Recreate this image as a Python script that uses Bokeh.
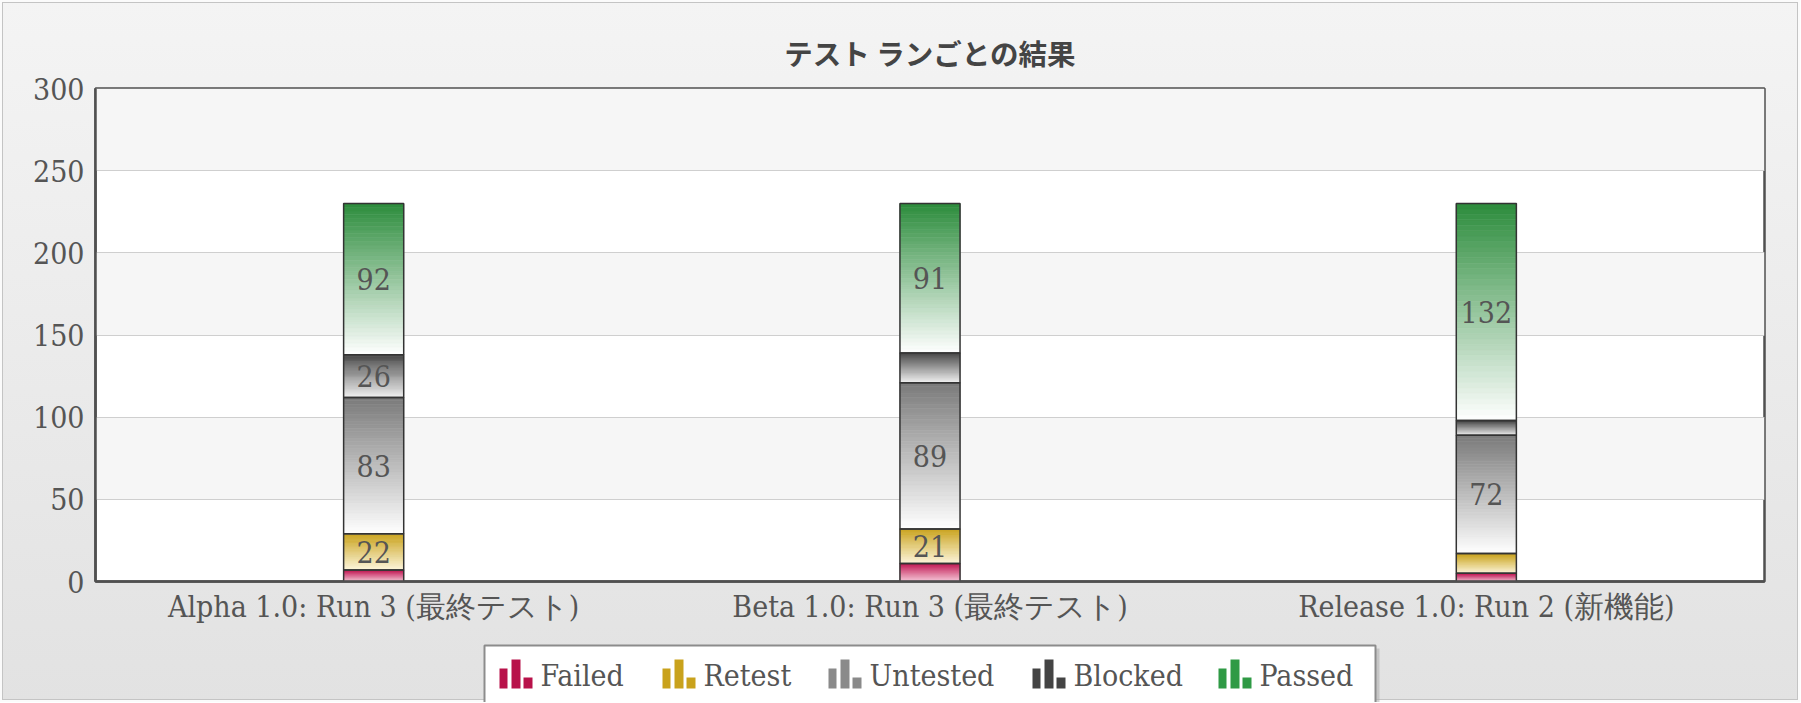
from bokeh.plotting import figure
from bokeh.models import FactorRange, Range1d, FixedTicker
from bokeh.layouts import column
from bokeh.embed import file_html
from bokeh.resources import INLINE
from bokeh.core.properties import value

# ---------------- data ----------------
runs = ["Alpha 1.0: Run 3 (最終テスト)", "Beta 1.0: Run 3 (最終テスト)", "Release 1.0: Run 2 (新機能)"]
statuses = ["Failed", "Retest", "Untested", "Blocked", "Passed"]
failed = [7, 11, 5]
retest = [22, 21, 12]
untested = [83, 89, 72]
blocked = [26, 18, 9]
passed = [92, 91, 132]
y_ticks = [0, 50, 100, 150, 200, 250, 300]
title_text = "テスト ランごとの結果"

series = [failed, retest, untested, blocked, passed]

# ---------------- style ----------------
top_colors = ["#c21a55", "#c9a21c", "#7a7a7a", "#474747", "#2c8c3c"]
bottom_colors = ["#f7cddb", "#fdf6dc", "#ffffff", "#f2f2f2", "#ffffff"]
icon_colors = ["#b8124a", "#c9a21c", "#8a8a8a", "#444444", "#2f9a45"]
SERIF = "DejaVu Serif Condensed"
FS = "30px"
TXT = "#555555"
BAR_W = 0.108
N_SLICES = 40
W = 1800
ML, MR = 95, 36


def hex2rgb(h):
    h = h.lstrip("#")
    return tuple(int(h[i:i + 2], 16) for i in (0, 2, 4))


def mix(c1, c2, t):
    a, b = hex2rgb(c1), hex2rgb(c2)
    return "#%02x%02x%02x" % tuple(round(a[i] + (b[i] - a[i]) * t) for i in range(3))


# ---------------- main figure ----------------
p = figure(width=W, height=640,
           x_range=FactorRange(*runs, range_padding=0),
           y_range=Range1d(0, 300),
           toolbar_location=None, output_backend="svg",
           min_border_left=ML, min_border_right=MR,
           min_border_top=88, min_border_bottom=59)

p.background_fill_color = "white"
p.border_fill_color = None
p.outline_line_color = "#505050"
p.outline_line_width = 2.5

p.title.text = title_text
p.title.align = "center"
p.title.text_font = "Noto Sans CJK JP"
p.title.text_font_size = "28.5px"
p.title.text_font_style = "bold"
p.title.text_color = "#444444"
p.title.standoff = 31

ticker = FixedTicker(ticks=y_ticks)
p.yaxis.ticker = ticker
p.ygrid.ticker = ticker
p.xgrid.visible = False
p.ygrid.grid_line_color = "#cfcfcf"
p.ygrid.band_fill_color = "#f6f6f6"
p.ygrid.band_fill_alpha = 1.0

for ax in (p.xaxis, p.yaxis):
    ax.major_label_text_font = SERIF
    ax.major_label_text_font_size = FS
    ax.major_label_text_color = TXT
    ax.major_tick_line_color = None
    ax.minor_tick_line_color = None
    ax.axis_line_color = "#505050"
    ax.axis_line_width = 2.5
p.yaxis.major_label_standoff = 5
p.xaxis.major_label_standoff = 1

# gradient slices
xs, bots, tops, cols = [], [], [], []
ox, ob, ot = [], [], []
lx, ly, lt = [], [], []
base = [0] * len(runs)
for si, vals in enumerate(series):
    for ri, v in enumerate(vals):
        b0 = base[ri]
        for k in range(N_SLICES):
            xs.append(runs[ri])
            bots.append(b0 + v * k / N_SLICES)
            tops.append(b0 + v * (k + 1) / N_SLICES)
            cols.append(mix(bottom_colors[si], top_colors[si], (k + 0.5) / N_SLICES))
        ox.append(runs[ri]); ob.append(b0); ot.append(b0 + v)
        if v >= 20:
            lx.append(runs[ri]); ly.append(b0 + v / 2); lt.append(str(v))
        base[ri] = b0 + v

p.vbar(x=xs, width=BAR_W, bottom=bots, top=tops, fill_color=cols,
       line_color=cols, line_width=0.6)
p.vbar(x=ox, width=BAR_W, bottom=ob, top=ot, fill_color=None,
       line_color="#333333", line_width=1.5)
p.text(x=lx, y=ly, text=lt, text_align="center", text_baseline="middle",
       text_font=value(SERIF), text_font_size=FS, text_color=TXT)

# ---------------- legend figure ----------------
lg = figure(width=W, height=62, x_range=Range1d(ML, W - MR), y_range=Range1d(702, 640),
            toolbar_location=None, output_backend="svg",
            min_border_left=ML, min_border_right=MR, min_border_top=0, min_border_bottom=0,
            x_axis_location=None, y_axis_location=None)
lg.grid.visible = False
lg.outline_line_color = None
lg.background_fill_color = None
lg.border_fill_color = None

lg.quad(left=[487], right=[1379], top=[648], bottom=[710], fill_color="#a8a8a8",
        fill_alpha=0.5, line_color=None)
lg.quad(left=[484], right=[1375], top=[645], bottom=[710], fill_color="white",
        line_color="#8c8c8c", line_width=2)

icon_x = [499, 662, 828, 1032, 1218]
bar_off = [(0, 8, 20), (12, 21, 29), (24, 33, 11)]
ql, qr, qt, qb, qc = [], [], [], [], []
for i, x0 in enumerate(icon_x):
    for a, b, h in bar_off:
        ql.append(x0 + a); qr.append(x0 + b); qt.append(688 - h); qb.append(688)
        qc.append(icon_colors[i])
lg.quad(left=ql, right=qr, top=qt, bottom=qb, fill_color=qc, line_color=None)
lg.text(x=[x0 + 41 for x0 in icon_x], y=[675] * 5, text=statuses,
        text_align="left", text_baseline="middle",
        text_font=value(SERIF), text_font_size=FS, text_color=TXT)

layout = column(p, lg, spacing=0,
                styles={"background": "linear-gradient(#f4f4f4, #e2e2e2)",
                        "box-shadow": "inset 0 0 0 2px #fbfbfb, inset 0 0 0 3px #c4c4c4"})

open("out.html", "w").write(file_html(layout, INLINE))
